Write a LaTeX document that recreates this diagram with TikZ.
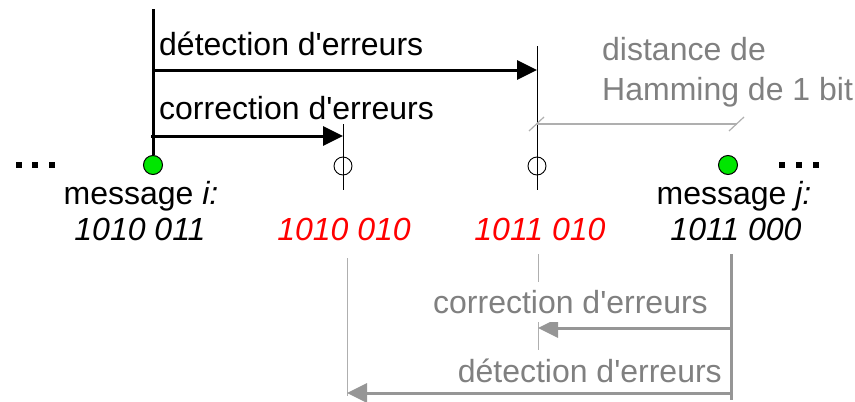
\documentclass[tikz,border=0pt]{standalone}
\usepackage{fontspec}
\setmainfont{Liberation Sans}
\usetikzlibrary{arrows.meta}
\definecolor{msggreen}{RGB}{0,230,0}
\definecolor{errred}{RGB}{255,0,0}
\definecolor{darkgray}{RGB}{128,128,128}
\definecolor{midgray}{RGB}{150,150,150}
\definecolor{lightgray}{RGB}{175,175,175}
\newcommand{\apos}{\textquotesingle}
\begin{document}
\begin{tikzpicture}[x=1pt,y=-1pt,
  txt/.style={font=\fontsize{32}{36}\selectfont, inner sep=0pt},
  msgdot/.style={circle, draw=black, fill=msggreen, line width=1pt, minimum size=19pt, inner sep=0pt},
  errdot/.style={circle, draw=black, line width=0.9pt, minimum size=18pt, inner sep=0pt},
  bigarrow/.style={line width=3pt, -{Triangle[length=20pt,width=19pt]}},
  thinline/.style={line width=1pt},
  dotmark/.style={fill=black, minimum size=5.5pt, inner sep=0pt},
]
\useasboundingbox (0,0) rectangle (855,402);

% code words on the axis
\node[msgdot] (mi) at (153,165) {};
\node[errdot] (e1) at (343,166) {};
\node[errdot] (e2) at (537,166) {};
\node[msgdot] (mj) at (728,165) {};

% ellipses at both ends
\foreach \x/\n in {19/l1,35/l2,52/l3,782/r1,799/r2,816/r3}
  \node[dotmark] (\n) at (\x,165) {};

% labels under the axis
\node[txt, anchor=base] (li) at (141,204) {message \textit{i:}};
\node[txt, anchor=base] (ci) at (140,240) {\textit{1010 011}};
\node[txt, anchor=base, text=errred] (c1) at (344,240) {\textit{1010 010}};
\node[txt, anchor=base, text=errred] (c2) at (540,240) {\textit{1011 010}};
\node[txt, anchor=base] (lj) at (734,204) {message \textit{j:}};
\node[txt, anchor=base] (cj) at (736,240) {\textit{1011 000}};

% ---- ranges seen from message i ----
\coordinate (itop) at (153,9);
\coordinate (idet) at (153,70);
\coordinate (icor) at (151,136);
\coordinate (e1top) at (343,124);
\coordinate (e1bot) at (343,190);
\coordinate (e2top) at (537,46);
\coordinate (e2bot) at (537,190);
\coordinate (e1arr) at (343,136);
\coordinate (e2arr) at (537,70);

\draw[line width=3pt] (itop) -- (mi.north);
\draw[thinline] (e1top) -- (e1bot);
\draw[thinline] (e2top) -- (e2bot);
\draw[bigarrow] (idet) -- (e2arr);
\draw[bigarrow] (icor) -- (e1arr);
\node[txt, anchor=base west] (tdet) at (159,55) {détection d\apos erreurs};
\node[txt, anchor=base west] (tcor) at (159,119) {correction d\apos erreurs};

% ---- Hamming distance of one bit ----
\coordinate (hl) at (537,124);
\coordinate (hr) at (737,124);
\draw[lightgray, line width=1.5pt] (hl) -- (hr);
\draw[lightgray, line width=1.2pt] ([shift={(-8,7)}]hl) -- ([shift={(7,-7)}]hl);
\draw[lightgray, line width=1.2pt] ([shift={(-8,7)}]hr) -- ([shift={(7,-7)}]hr);
\node[txt, anchor=base west, text=darkgray] (hd1) at (602,60) {distance de};
\node[txt, anchor=base west, text=darkgray] (hd2) at (602,100) {Hamming de 1 bit};

% ---- ranges seen from message j ----
\coordinate (jtop) at (731,254);
\coordinate (jbot) at (731,400);
\coordinate (jcor) at (731,328);
\coordinate (jdet) at (731,393);
\coordinate (g1top) at (347,258);
\coordinate (g1bot) at (347,396);
\coordinate (g1arr) at (347,393);
\coordinate (g2top) at (538,254);
\coordinate (g2bot) at (538,350);
\coordinate (g2arr) at (538,328);

\draw[lightgray, thinline] (g1top) -- (g1bot);
\draw[lightgray, thinline] (g2top) -- (g2bot);
\draw[midgray, line width=3pt] (jtop) -- (jbot);
\draw[midgray, bigarrow] (jcor) -- (g2arr);
\draw[midgray, bigarrow] (jdet) -- (g1arr);
\node[txt, anchor=base east, text=darkgray, fill=white, text height=31pt, text depth=9pt] (gcor) at (708,313) {correction d\apos erreurs};
\node[txt, anchor=base east, text=darkgray] (gdet) at (722,382) {détection d\apos erreurs};
\end{tikzpicture}
\end{document}
